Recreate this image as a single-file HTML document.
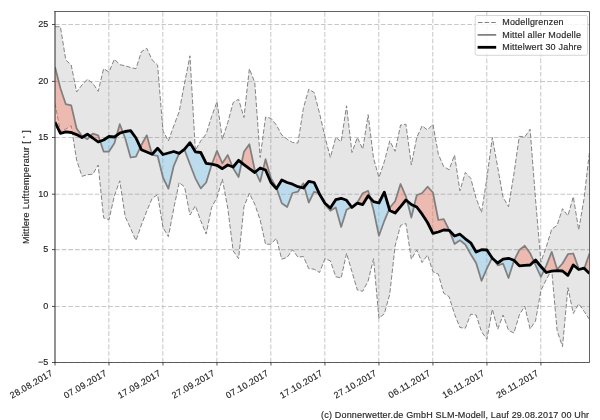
<!DOCTYPE html>
<html><head><meta charset="utf-8"><title>Mittlere Lufttemperatur</title>
<style>html,body{margin:0;padding:0;background:#fff;}body{width:600px;height:420px;position:relative;overflow:hidden;font-family:"Liberation Sans",sans-serif;}</style>
</head><body>
<svg width="600" height="420" viewBox="0 0 600 420" style="position:absolute;left:0;top:0;will-change:transform;opacity:0.999;font-family:'Liberation Sans',sans-serif;"><style>text{stroke:#262626;stroke-width:0.15px;}</style><rect width="600" height="420" fill="#fff"/><defs><clipPath id="ax"><rect x="55.0" y="11.5" width="534.5" height="351.0"/></clipPath></defs><g stroke="#c8c8c8" stroke-width="1.05" stroke-dasharray="4.65 2" fill="none"><line x1="108.84" y1="362.5" x2="108.84" y2="11.5"/><line x1="162.83" y1="362.5" x2="162.83" y2="11.5"/><line x1="216.82" y1="362.5" x2="216.82" y2="11.5"/><line x1="270.81" y1="362.5" x2="270.81" y2="11.5"/><line x1="324.80" y1="362.5" x2="324.80" y2="11.5"/><line x1="378.79" y1="362.5" x2="378.79" y2="11.5"/><line x1="432.78" y1="362.5" x2="432.78" y2="11.5"/><line x1="486.77" y1="362.5" x2="486.77" y2="11.5"/><line x1="540.76" y1="362.5" x2="540.76" y2="11.5"/><line x1="55.0" y1="362.50" x2="589.5" y2="362.50"/><line x1="55.0" y1="306.45" x2="589.5" y2="306.45"/><line x1="55.0" y1="249.60" x2="589.5" y2="249.60"/><line x1="55.0" y1="194.20" x2="589.5" y2="194.20"/><line x1="55.0" y1="137.50" x2="589.5" y2="137.50"/><line x1="55.0" y1="81.40" x2="589.5" y2="81.40"/><line x1="55.0" y1="24.50" x2="589.5" y2="24.50"/></g><g clip-path="url(#ax)"><polygon points="55.00,26.70 60.40,26.70 65.80,60.00 71.20,65.00 76.60,92.00 81.99,85.00 87.39,79.20 92.79,83.30 98.19,91.30 103.59,68.70 108.99,72.00 114.39,59.20 119.79,64.70 125.19,65.80 130.59,67.50 135.98,68.70 141.38,51.70 146.78,48.30 152.18,60.00 157.58,65.00 162.98,130.80 168.38,141.00 173.78,125.80 179.18,111.70 184.58,83.00 189.97,55.80 195.37,150.50 200.77,140.80 206.17,134.00 211.57,116.70 216.97,101.70 222.37,139.20 227.77,122.50 233.17,102.50 238.57,99.20 243.96,117.50 249.36,68.70 254.76,82.50 260.16,157.50 265.56,117.00 270.96,118.30 276.36,125.00 281.76,135.00 287.16,139.20 292.56,142.50 297.95,143.00 303.35,108.30 308.75,89.20 314.15,92.50 319.55,113.30 324.95,136.70 330.35,157.50 335.75,137.50 341.15,141.70 346.55,105.80 351.94,152.50 357.34,137.50 362.74,149.20 368.14,114.70 373.54,158.30 378.94,177.50 384.34,161.70 389.74,140.80 395.14,151.30 400.54,125.00 405.93,124.20 411.33,165.00 416.73,137.50 422.13,125.80 427.53,130.00 432.93,124.20 438.33,154.20 443.73,166.70 449.13,169.70 454.53,155.00 459.92,190.80 465.32,172.50 470.72,178.30 476.12,198.30 481.52,212.50 486.92,178.00 492.32,137.50 497.72,167.50 503.12,197.50 508.52,206.70 513.91,174.00 519.31,136.30 524.71,137.00 530.11,129.20 535.51,199.00 540.91,262.00 546.31,246.70 551.71,229.20 557.11,225.30 562.51,208.70 567.90,215.80 573.30,196.70 578.70,230.00 584.10,198.30 589.50,151.70 589.50,319.50 584.10,311.30 578.70,303.80 573.30,313.50 567.90,287.70 562.51,346.70 557.11,330.60 551.71,270.00 546.31,279.50 540.91,290.50 535.51,321.00 530.11,329.00 524.71,306.00 519.31,315.00 513.91,333.00 508.52,330.30 503.12,315.00 497.72,329.20 492.32,309.20 486.92,339.20 481.52,331.70 476.12,315.00 470.72,314.20 465.32,328.30 459.92,327.50 454.53,314.20 449.13,296.70 443.73,293.30 438.33,274.20 432.93,271.70 427.53,255.00 422.13,262.50 416.73,250.00 411.33,259.20 405.93,223.50 400.54,225.40 395.14,245.80 389.74,294.20 384.34,313.70 378.94,318.30 373.54,258.70 368.14,281.00 362.74,291.30 357.34,290.00 351.94,271.70 346.55,253.30 341.15,278.00 335.75,276.70 330.35,260.80 324.95,258.70 319.55,272.50 314.15,269.20 308.75,268.70 303.35,256.50 297.95,257.20 292.56,249.70 287.16,257.30 281.76,259.20 276.36,238.30 270.96,244.20 265.56,244.20 260.16,220.00 254.76,204.20 249.36,193.30 243.96,206.70 238.57,258.70 233.17,250.80 227.77,208.30 222.37,179.00 216.97,197.50 211.57,207.50 206.17,234.00 200.77,220.80 195.37,205.80 189.97,215.00 184.58,187.00 179.18,182.50 173.78,208.30 168.38,236.70 162.98,227.50 157.58,194.70 152.18,198.30 146.78,211.00 141.38,225.00 135.98,240.50 130.59,228.30 125.19,216.70 119.79,180.80 114.39,195.80 108.99,219.70 103.59,217.80 98.19,165.00 92.79,174.20 87.39,174.70 81.99,176.30 76.60,160.00 71.20,125.80 65.80,129.00 60.40,131.70 55.00,103.30" fill="rgba(128,128,128,0.2)" fill-rule="nonzero"/><polyline points="55.00,26.70 60.40,26.70 65.80,60.00 71.20,65.00 76.60,92.00 81.99,85.00 87.39,79.20 92.79,83.30 98.19,91.30 103.59,68.70 108.99,72.00 114.39,59.20 119.79,64.70 125.19,65.80 130.59,67.50 135.98,68.70 141.38,51.70 146.78,48.30 152.18,60.00 157.58,65.00 162.98,130.80 168.38,141.00 173.78,125.80 179.18,111.70 184.58,83.00 189.97,55.80 195.37,150.50 200.77,140.80 206.17,134.00 211.57,116.70 216.97,101.70 222.37,139.20 227.77,122.50 233.17,102.50 238.57,99.20 243.96,117.50 249.36,68.70 254.76,82.50 260.16,157.50 265.56,117.00 270.96,118.30 276.36,125.00 281.76,135.00 287.16,139.20 292.56,142.50 297.95,143.00 303.35,108.30 308.75,89.20 314.15,92.50 319.55,113.30 324.95,136.70 330.35,157.50 335.75,137.50 341.15,141.70 346.55,105.80 351.94,152.50 357.34,137.50 362.74,149.20 368.14,114.70 373.54,158.30 378.94,177.50 384.34,161.70 389.74,140.80 395.14,151.30 400.54,125.00 405.93,124.20 411.33,165.00 416.73,137.50 422.13,125.80 427.53,130.00 432.93,124.20 438.33,154.20 443.73,166.70 449.13,169.70 454.53,155.00 459.92,190.80 465.32,172.50 470.72,178.30 476.12,198.30 481.52,212.50 486.92,178.00 492.32,137.50 497.72,167.50 503.12,197.50 508.52,206.70 513.91,174.00 519.31,136.30 524.71,137.00 530.11,129.20 535.51,199.00 540.91,262.00 546.31,246.70 551.71,229.20 557.11,225.30 562.51,208.70 567.90,215.80 573.30,196.70 578.70,230.00 584.10,198.30 589.50,151.70" fill="none" stroke="#838383" stroke-width="1.0" stroke-dasharray="4.6 2"/><polyline points="55.00,103.30 60.40,131.70 65.80,129.00 71.20,125.80 76.60,160.00 81.99,176.30 87.39,174.70 92.79,174.20 98.19,165.00 103.59,217.80 108.99,219.70 114.39,195.80 119.79,180.80 125.19,216.70 130.59,228.30 135.98,240.50 141.38,225.00 146.78,211.00 152.18,198.30 157.58,194.70 162.98,227.50 168.38,236.70 173.78,208.30 179.18,182.50 184.58,187.00 189.97,215.00 195.37,205.80 200.77,220.80 206.17,234.00 211.57,207.50 216.97,197.50 222.37,179.00 227.77,208.30 233.17,250.80 238.57,258.70 243.96,206.70 249.36,193.30 254.76,204.20 260.16,220.00 265.56,244.20 270.96,244.20 276.36,238.30 281.76,259.20 287.16,257.30 292.56,249.70 297.95,257.20 303.35,256.50 308.75,268.70 314.15,269.20 319.55,272.50 324.95,258.70 330.35,260.80 335.75,276.70 341.15,278.00 346.55,253.30 351.94,271.70 357.34,290.00 362.74,291.30 368.14,281.00 373.54,258.70 378.94,318.30 384.34,313.70 389.74,294.20 395.14,245.80 400.54,225.40 405.93,223.50 411.33,259.20 416.73,250.00 422.13,262.50 427.53,255.00 432.93,271.70 438.33,274.20 443.73,293.30 449.13,296.70 454.53,314.20 459.92,327.50 465.32,328.30 470.72,314.20 476.12,315.00 481.52,331.70 486.92,339.20 492.32,309.20 497.72,329.20 503.12,315.00 508.52,330.30 513.91,333.00 519.31,315.00 524.71,306.00 530.11,329.00 535.51,321.00 540.91,290.50 546.31,279.50 551.71,270.00 557.11,330.60 562.51,346.70 567.90,287.70 573.30,313.50 578.70,303.80 584.10,311.30 589.50,319.50" fill="none" stroke="#838383" stroke-width="1.0" stroke-dasharray="4.6 2"/><path d="M55.00,67.00 L60.40,88.30 L65.80,104.20 L71.20,105.30 L76.60,128.50 L81.99,136.00 L83.24,136.74 L83.24,136.74 L81.99,137.50 L76.60,134.60 L71.20,132.50 L65.80,131.80 L60.40,133.30 L55.00,122.00Z M90.30,136.24 L92.79,133.70 L98.19,135.30 L100.18,141.26 L100.18,141.26 L98.19,142.00 L92.79,138.00 L90.30,136.24Z M116.61,135.44 L119.79,124.20 L122.86,132.23 L122.86,132.23 L119.79,133.20 L116.61,135.44Z M140.30,147.35 L141.38,145.00 L146.78,135.30 L151.94,154.10 L151.94,154.10 L146.78,152.00 L141.38,149.70 L140.30,147.35Z M211.85,164.26 L216.97,150.80 L222.37,163.30 L227.77,155.00 L232.55,166.77 L232.55,166.77 L227.77,165.00 L222.37,168.70 L216.97,165.30 L211.85,164.26Z M241.60,162.77 L243.96,151.70 L249.36,144.20 L254.76,170.00 L255.60,171.81 L255.60,171.81 L254.76,172.50 L249.36,168.70 L243.96,164.70 L241.60,162.77Z M263.18,169.12 L265.56,159.20 L270.96,178.30 L276.36,187.50 L276.62,188.27 L276.62,188.27 L276.36,188.70 L270.96,182.50 L265.56,170.00 L263.18,169.12Z M300.74,187.37 L303.35,183.30 L304.33,186.78 L304.33,186.78 L303.35,188.00 L300.74,187.37Z M319.27,193.60 L319.55,193.70 L321.48,197.45 L321.48,197.45 L319.55,194.20 L319.27,193.60Z M351.53,206.94 L351.94,206.70 L357.34,202.50 L362.74,193.30 L368.14,190.80 L370.16,197.96 L370.16,197.96 L368.14,195.80 L362.74,204.60 L357.34,203.20 L351.94,207.50 L351.53,206.94Z M389.27,208.92 L389.74,207.80 L395.14,201.30 L400.54,184.00 L405.93,196.30 L407.13,201.00 L407.13,201.00 L405.93,200.00 L400.54,206.70 L395.14,213.00 L389.74,210.50 L389.27,208.92Z M414.16,205.81 L416.73,195.20 L422.13,193.00 L427.53,186.70 L432.93,192.50 L438.33,220.00 L443.73,219.20 L449.13,230.00 L449.32,230.51 L449.32,230.51 L449.13,230.30 L443.73,230.00 L438.33,232.00 L432.93,233.30 L427.53,222.50 L422.13,214.20 L416.73,207.00 L414.16,205.81Z M492.09,257.95 L492.32,257.50 L493.71,259.51 L493.71,259.51 L492.32,258.30 L492.09,257.95Z M514.08,260.47 L519.31,250.00 L524.71,245.80 L530.11,253.20 L533.90,261.49 L533.90,261.49 L530.11,265.00 L524.71,265.30 L519.31,265.80 L514.08,260.47Z M544.15,270.10 L546.31,265.50 L551.71,251.80 L557.11,269.30 L562.51,263.50 L567.90,254.20 L573.30,253.50 L578.70,268.50 L581.70,268.78 L581.70,268.78 L578.70,269.50 L573.30,265.00 L567.90,275.40 L562.51,271.00 L557.11,270.70 L551.71,271.20 L546.31,272.50 L544.15,270.10Z M584.31,268.40 L589.50,253.50 L589.50,273.50 L584.31,268.40Z" fill="rgba(245,120,95,0.40)"/><path d="M83.24,136.74 L87.39,139.20 L90.30,136.24 L90.30,136.24 L87.39,134.20 L83.24,136.74Z M100.18,141.26 L103.59,151.50 L108.99,151.50 L114.39,143.30 L116.61,135.44 L116.61,135.44 L114.39,137.00 L108.99,136.50 L103.59,140.00 L100.18,141.26Z M122.86,132.23 L125.19,138.30 L130.59,157.50 L135.98,156.70 L140.30,147.35 L140.30,147.35 L135.98,138.00 L130.59,130.60 L125.19,131.50 L122.86,132.23Z M151.94,154.10 L152.18,155.00 L157.58,155.80 L162.98,177.50 L168.38,188.70 L173.78,165.80 L179.18,153.30 L179.18,153.30 L173.78,151.50 L168.38,153.00 L162.98,154.50 L157.58,148.20 L152.18,154.20 L151.94,154.10Z M179.18,153.30 L184.58,150.00 L189.97,164.20 L195.37,178.30 L200.77,188.30 L206.17,182.50 L211.57,165.00 L211.85,164.26 L211.85,164.26 L211.57,164.20 L206.17,163.30 L200.77,152.50 L195.37,151.80 L189.97,142.70 L184.58,149.20 L179.18,153.30Z M232.55,166.77 L233.17,168.30 L238.57,177.00 L241.60,162.77 L241.60,162.77 L238.57,160.30 L233.17,167.00 L232.55,166.77Z M255.60,171.81 L260.16,181.70 L263.18,169.12 L263.18,169.12 L260.16,168.00 L255.60,171.81Z M276.62,188.27 L281.76,203.30 L287.16,207.00 L292.56,193.00 L297.95,191.70 L300.74,187.37 L300.74,187.37 L297.95,186.70 L292.56,184.20 L287.16,182.50 L281.76,180.00 L276.62,188.27Z M304.33,186.78 L308.75,202.50 L314.15,191.70 L319.27,193.60 L319.27,193.60 L314.15,182.50 L308.75,181.30 L304.33,186.78Z M321.48,197.45 L324.95,204.20 L330.35,210.80 L335.75,207.50 L341.15,227.00 L346.55,209.80 L351.53,206.94 L351.53,206.94 L346.55,200.30 L341.15,198.30 L335.75,199.70 L330.35,208.00 L324.95,203.30 L321.48,197.45Z M370.16,197.96 L373.54,210.00 L378.94,235.80 L384.34,220.80 L389.27,208.92 L389.27,208.92 L384.34,192.20 L378.94,203.00 L373.54,201.60 L370.16,197.96Z M407.13,201.00 L411.33,217.50 L414.16,205.81 L414.16,205.81 L411.33,204.50 L407.13,201.00Z M449.32,230.51 L454.53,244.00 L459.92,240.30 L465.32,244.50 L470.72,254.20 L476.12,263.00 L481.52,280.80 L486.92,268.30 L492.09,257.95 L492.09,257.95 L486.92,250.00 L481.52,249.70 L476.12,252.00 L470.72,242.80 L465.32,238.80 L459.92,234.20 L454.53,236.00 L449.32,230.51Z M493.71,259.51 L497.72,265.30 L503.12,263.70 L508.52,278.00 L513.91,260.80 L514.08,260.47 L514.08,260.47 L513.91,260.30 L508.52,258.30 L503.12,259.20 L497.72,263.00 L493.71,259.51Z M533.90,261.49 L535.51,265.00 L540.91,277.00 L544.15,270.10 L544.15,270.10 L540.91,266.50 L535.51,260.00 L533.90,261.49Z M581.70,268.78 L584.10,269.00 L584.31,268.40 L584.31,268.40 L584.10,268.20 L581.70,268.78Z" fill="rgba(125,203,245,0.40)"/><polyline points="55.00,67.00 60.40,88.30 65.80,104.20 71.20,105.30 76.60,128.50 81.99,136.00 87.39,139.20 92.79,133.70 98.19,135.30 103.59,151.50 108.99,151.50 114.39,143.30 119.79,124.20 125.19,138.30 130.59,157.50 135.98,156.70 141.38,145.00 146.78,135.30 152.18,155.00 157.58,155.80 162.98,177.50 168.38,188.70 173.78,165.80 179.18,153.30 184.58,150.00 189.97,164.20 195.37,178.30 200.77,188.30 206.17,182.50 211.57,165.00 216.97,150.80 222.37,163.30 227.77,155.00 233.17,168.30 238.57,177.00 243.96,151.70 249.36,144.20 254.76,170.00 260.16,181.70 265.56,159.20 270.96,178.30 276.36,187.50 281.76,203.30 287.16,207.00 292.56,193.00 297.95,191.70 303.35,183.30 308.75,202.50 314.15,191.70 319.55,193.70 324.95,204.20 330.35,210.80 335.75,207.50 341.15,227.00 346.55,209.80 351.94,206.70 357.34,202.50 362.74,193.30 368.14,190.80 373.54,210.00 378.94,235.80 384.34,220.80 389.74,207.80 395.14,201.30 400.54,184.00 405.93,196.30 411.33,217.50 416.73,195.20 422.13,193.00 427.53,186.70 432.93,192.50 438.33,220.00 443.73,219.20 449.13,230.00 454.53,244.00 459.92,240.30 465.32,244.50 470.72,254.20 476.12,263.00 481.52,280.80 486.92,268.30 492.32,257.50 497.72,265.30 503.12,263.70 508.52,278.00 513.91,260.80 519.31,250.00 524.71,245.80 530.11,253.20 535.51,265.00 540.91,277.00 546.31,265.50 551.71,251.80 557.11,269.30 562.51,263.50 567.90,254.20 573.30,253.50 578.70,268.50 584.10,269.00 589.50,253.50" fill="none" stroke="#808080" stroke-width="1.75" stroke-linejoin="round"/><polyline points="55.00,122.00 60.40,133.30 65.80,131.80 71.20,132.50 76.60,134.60 81.99,137.50 87.39,134.20 92.79,138.00 98.19,142.00 103.59,140.00 108.99,136.50 114.39,137.00 119.79,133.20 125.19,131.50 130.59,130.60 135.98,138.00 141.38,149.70 146.78,152.00 152.18,154.20 157.58,148.20 162.98,154.50 168.38,153.00 173.78,151.50 179.18,153.30 184.58,149.20 189.97,142.70 195.37,151.80 200.77,152.50 206.17,163.30 211.57,164.20 216.97,165.30 222.37,168.70 227.77,165.00 233.17,167.00 238.57,160.30 243.96,164.70 249.36,168.70 254.76,172.50 260.16,168.00 265.56,170.00 270.96,182.50 276.36,188.70 281.76,180.00 287.16,182.50 292.56,184.20 297.95,186.70 303.35,188.00 308.75,181.30 314.15,182.50 319.55,194.20 324.95,203.30 330.35,208.00 335.75,199.70 341.15,198.30 346.55,200.30 351.94,207.50 357.34,203.20 362.74,204.60 368.14,195.80 373.54,201.60 378.94,203.00 384.34,192.20 389.74,210.50 395.14,213.00 400.54,206.70 405.93,200.00 411.33,204.50 416.73,207.00 422.13,214.20 427.53,222.50 432.93,233.30 438.33,232.00 443.73,230.00 449.13,230.30 454.53,236.00 459.92,234.20 465.32,238.80 470.72,242.80 476.12,252.00 481.52,249.70 486.92,250.00 492.32,258.30 497.72,263.00 503.12,259.20 508.52,258.30 513.91,260.30 519.31,265.80 524.71,265.30 530.11,265.00 535.51,260.00 540.91,266.50 546.31,272.50 551.71,271.20 557.11,270.70 562.51,271.00 567.90,275.40 573.30,265.00 578.70,269.50 584.10,268.20 589.50,273.50" fill="none" stroke="#000" stroke-width="2.8" stroke-linejoin="round"/></g><path d="M55.0,11.5 H589.5 V362.5 H55.0" fill="none" stroke="#3a3a3a" stroke-width="0.8" stroke-linecap="square"/><line x1="55.0" y1="11.1" x2="55.0" y2="362.9" stroke="#3a3a3a" stroke-width="1.1"/><g stroke="#262626" stroke-width="0.8"><line x1="55.00" y1="362.5" x2="55.00" y2="365.5"/><line x1="108.99" y1="362.5" x2="108.99" y2="365.5"/><line x1="162.98" y1="362.5" x2="162.98" y2="365.5"/><line x1="216.97" y1="362.5" x2="216.97" y2="365.5"/><line x1="270.96" y1="362.5" x2="270.96" y2="365.5"/><line x1="324.95" y1="362.5" x2="324.95" y2="365.5"/><line x1="378.94" y1="362.5" x2="378.94" y2="365.5"/><line x1="432.93" y1="362.5" x2="432.93" y2="365.5"/><line x1="486.92" y1="362.5" x2="486.92" y2="365.5"/><line x1="540.91" y1="362.5" x2="540.91" y2="365.5"/><line x1="52.0" y1="362.50" x2="55.0" y2="362.50"/><line x1="52.0" y1="306.45" x2="55.0" y2="306.45"/><line x1="52.0" y1="249.60" x2="55.0" y2="249.60"/><line x1="52.0" y1="194.20" x2="55.0" y2="194.20"/><line x1="52.0" y1="137.50" x2="55.0" y2="137.50"/><line x1="52.0" y1="81.40" x2="55.0" y2="81.40"/><line x1="52.0" y1="24.50" x2="55.0" y2="24.50"/></g><text x="48.3" y="365.10" font-size="9.0" text-anchor="end" fill="#262626">−5</text><text x="48.3" y="309.05" font-size="9.0" text-anchor="end" fill="#262626">0</text><text x="48.3" y="252.20" font-size="9.0" text-anchor="end" fill="#262626">5</text><text x="48.3" y="196.80" font-size="9.0" text-anchor="end" fill="#262626">10</text><text x="48.3" y="140.10" font-size="9.0" text-anchor="end" fill="#262626">15</text><text x="48.3" y="84.00" font-size="9.0" text-anchor="end" fill="#262626">20</text><text x="48.3" y="27.10" font-size="9.0" text-anchor="end" fill="#262626">25</text><text transform="translate(53.50,374.90) rotate(-30)" font-size="9.0" text-anchor="end" fill="#262626" letter-spacing="0.28">28.08.2017</text><text transform="translate(107.49,374.90) rotate(-30)" font-size="9.0" text-anchor="end" fill="#262626" letter-spacing="0.28">07.09.2017</text><text transform="translate(161.48,374.90) rotate(-30)" font-size="9.0" text-anchor="end" fill="#262626" letter-spacing="0.28">17.09.2017</text><text transform="translate(215.47,374.90) rotate(-30)" font-size="9.0" text-anchor="end" fill="#262626" letter-spacing="0.28">27.09.2017</text><text transform="translate(269.46,374.90) rotate(-30)" font-size="9.0" text-anchor="end" fill="#262626" letter-spacing="0.28">07.10.2017</text><text transform="translate(323.45,374.90) rotate(-30)" font-size="9.0" text-anchor="end" fill="#262626" letter-spacing="0.28">17.10.2017</text><text transform="translate(377.44,374.90) rotate(-30)" font-size="9.0" text-anchor="end" fill="#262626" letter-spacing="0.28">27.10.2017</text><text transform="translate(431.43,374.90) rotate(-30)" font-size="9.0" text-anchor="end" fill="#262626" letter-spacing="0.28">06.11.2017</text><text transform="translate(485.42,374.90) rotate(-30)" font-size="9.0" text-anchor="end" fill="#262626" letter-spacing="0.28">16.11.2017</text><text transform="translate(539.41,374.90) rotate(-30)" font-size="9.0" text-anchor="end" fill="#262626" letter-spacing="0.28">26.11.2017</text><text transform="translate(29.4,187) rotate(-90)" font-size="9.0" text-anchor="middle" fill="#262626" letter-spacing="0.3">Mittlere Lufttemperatur [ <tspan font-size="6.5" dy="-3.2">◦</tspan><tspan dy="3.2"> ]</tspan></text><rect x="475.2" y="15.5" width="112.4" height="39.8" rx="1.8" ry="1.8" fill="#fff" fill-opacity="0.8" stroke="#cccccc" stroke-width="0.8"/><line x1="478" y1="22.5" x2="495.8" y2="22.5" stroke="#838383" stroke-width="1.0" stroke-dasharray="4.6 2"/><line x1="477.6" y1="34.9" x2="496.2" y2="34.9" stroke="#808080" stroke-width="1.75"/><line x1="477.6" y1="47.3" x2="496.2" y2="47.3" stroke="#000" stroke-width="2.8"/><text x="502.2" y="25.0" font-size="9.0" fill="#262626" letter-spacing="0.2">Modellgrenzen</text><text x="502.2" y="37.7" font-size="9.0" fill="#262626" letter-spacing="0.2">Mittel aller Modelle</text><text x="502.2" y="50.4" font-size="9.0" fill="#262626" letter-spacing="0.2">Mittelwert 30 Jahre</text><text x="589.3" y="418" font-size="9.0" text-anchor="end" fill="#262626" letter-spacing="0.18">(c) Donnerwetter.de GmbH SLM-Modell, Lauf 29.08.2017 00 Uhr</text></svg>
</body></html>
